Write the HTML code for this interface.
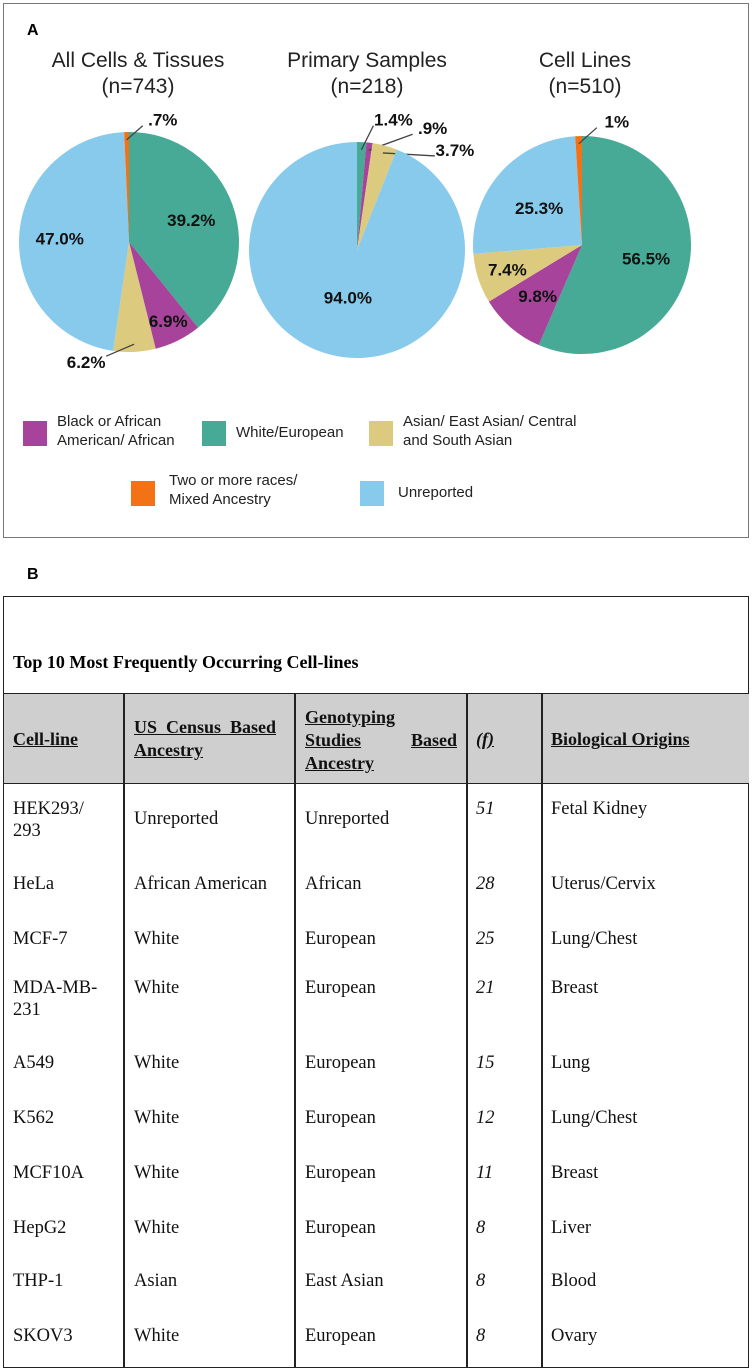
<!DOCTYPE html>
<html><head><meta charset="utf-8">
<style>
body{margin:0;width:753px;height:1371px;background:#fff;position:relative;overflow:hidden;font-family:"Liberation Sans",Arial,sans-serif;}
.abs{position:absolute;white-space:nowrap;}
.t{font-family:"Liberation Serif","Times New Roman",serif;font-size:18.5px;color:#111;}
.h{font-family:"Liberation Serif","Times New Roman",serif;font-weight:bold;font-size:18px;text-decoration:underline;color:#111;}
.vl{position:absolute;top:693px;height:674px;width:1.5px;background:#222;}
.lg{font-size:15px;color:#222;line-height:19px;}
.sw{position:absolute;width:24px;height:25px;}
</style></head><body>
<div class="abs" style="left:3px;top:3px;width:744px;height:533px;border:1.5px solid #777;"></div>
<div class="abs" style="left:27px;top:22px;font-weight:bold;font-size:16px;">A</div>
<svg id="pies" width="753" height="540" style="position:absolute;left:0;top:0"></svg>

<div class="sw" style="left:23px;top:421px;background:#A8439B"></div>
<div class="abs lg" style="left:57px;top:412px">Black or African<br>American/ African</div>
<div class="sw" style="left:202px;top:421px;background:#46AA96"></div>
<div class="abs lg" style="left:236px;top:423px">White/European</div>
<div class="sw" style="left:369px;top:421px;background:#DCCB7E"></div>
<div class="abs lg" style="left:403px;top:412px">Asian/ East Asian/ Central<br>and South Asian</div>
<div class="sw" style="left:131px;top:481px;background:#F47216"></div>
<div class="abs lg" style="left:169px;top:471px">Two or more races/<br>Mixed Ancestry</div>
<div class="sw" style="left:360px;top:481px;background:#87CAEC"></div>
<div class="abs lg" style="left:398px;top:483px">Unreported</div>

<div class="abs" style="left:27px;top:566px;font-weight:bold;font-size:16px;">B</div>
<div class="abs" style="left:3px;top:596px;width:744px;height:770px;border:1.5px solid #222;"></div>
<div class="abs" style="left:4px;top:693px;width:745px;height:89px;background:#d0cfcf;border-top:1.5px solid #222;border-bottom:1.5px solid #222;"></div>
<div class="abs" style="left:13px;top:652px;font-family:'Liberation Serif',serif;font-weight:bold;font-size:18px;">Top 10 Most Frequently Occurring Cell-lines</div>
<div class="vl" style="left:123px"></div>
<div class="vl" style="left:294px"></div>
<div class="vl" style="left:466px"></div>
<div class="vl" style="left:541px"></div>
<div class="abs h" style="left:13px;top:729px">Cell-line</div>
<div class="abs h" style="left:134px;top:716px;line-height:23px">US&nbsp;&nbsp;Census&nbsp;&nbsp;Based<br>Ancestry</div>
<div class="abs h" style="left:305px;top:706px;line-height:23px;width:152px;white-space:normal">Genotyping<br><span style="display:flex;justify-content:space-between"><span>Studies</span><span>Based</span></span>Ancestry</div>
<div class="abs h" style="left:476px;top:729px;font-style:italic">(f)</div>
<div class="abs h" style="left:551px;top:729px">Biological Origins</div>
<div id="rows"></div>

<script>
const groups=["Black","White","Asian","Mixed","Unreported"];
const colors={White:"#46AA96",Black:"#A8439B",Asian:"#DCCB7E",Mixed:"#F47216",Unreported:"#87CAEC"};
const pieTitles=["All Cells & Tissues","Primary Samples","Cell Lines"];
const pieN=["(n=743)","(n=218)","(n=510)"];
const pieOrder=["White","Black","Asian","Unreported","Mixed"];
const pie1Values=[39.2,6.9,6.2,47.0,0.7];
const pie2Values=[1.4,0.9,3.7,94.0,0];
const pie3Values=[56.5,9.8,7.4,25.3,1.0];
const pie1Labels=["39.2%","6.9%","6.2%","47.0%",".7%"];
const pie2Labels=["1.4%",".9%","3.7%","94.0%",""];
const pie3Labels=["56.5%","9.8%","7.4%","25.3%","1%"];
const allValues=[pie1Values,pie2Values,pie3Values];
const allLabels=[pie1Labels,pie2Labels,pie3Labels];
const geo=[{cx:129,cy:242,r:110,tx:138},{cx:357,cy:250,r:108,tx:367},{cx:582,cy:245,r:109,tx:585}];
const labelPos=[
 [{f:0.6},{f:0.8},{out:1,dx:-42,dy:18},{f:0.63},{out:1,dx:30,dy:-20}],
 [{out:1,dx:26,dy:-30},{out:1,dx:58,dy:-22},{out:1,dx:66,dy:-3},{f:0.45},{}],
 [{f:0.6},{f:0.62},{f:0.72},{f:0.52},{out:1,dx:32,dy:-22}]
];
const NS="http://www.w3.org/2000/svg";
const svg=document.getElementById('pies');
function pt(g,a,rr){return [g.cx+rr*Math.sin(a),g.cy-rr*Math.cos(a)];}
function angleOf(v,tot){return v/tot*2*Math.PI;}
allValues.forEach((vals,pi)=>{
  const g=geo[pi];
  const tot=vals.reduce((a,b)=>a+b,0);
  const t1=document.createElementNS(NS,'text');
  
  
  t1.setAttribute('x',g.tx);t1.setAttribute('y',67);t1.setAttribute('text-anchor','middle');t1.setAttribute('font-size','21');t1.setAttribute('fill','#222');
  t1.textContent=pieTitles[pi];svg.appendChild(t1);
  const t2=document.createElementNS(NS,'text');
  
  
  t2.setAttribute('x',g.tx);t2.setAttribute('y',93);t2.setAttribute('text-anchor','middle');t2.setAttribute('font-size','21');t2.setAttribute('fill','#222');
  t2.textContent=pieN[pi];svg.appendChild(t2);
  let a=0;
  vals.forEach((v,i)=>{
    if(v<=0)return;
    const da=angleOf(v,tot);
    const p0=pt(g,a,g.r),p1=pt(g,a+da,g.r);
    const path=document.createElementNS(NS,'path');
    
    
    path.setAttribute('d',`M${g.cx},${g.cy} L${p0[0]},${p0[1]} A${g.r},${g.r} 0 ${da>Math.PI?1:0} 1 ${p1[0]},${p1[1]} Z`);
    path.setAttribute('fill',colors[pieOrder[i]]);
    svg.appendChild(path);
    const lp=labelPos[pi][i]; const mid=a+da/2;
    let lx,ly;
    if(lp.out){
      const e=pt(g,mid,g.r*0.93);
      lx=e[0]+lp.dx; ly=e[1]+lp.dy;
      const ln=document.createElementNS(NS,'line');
      
      
      const ex=lx-Math.sign(lp.dx)*14, ey=ly+(lp.dy<0?6:-6);
      ln.setAttribute('x1',e[0]);ln.setAttribute('y1',e[1]);ln.setAttribute('x2',ex);ln.setAttribute('y2',ey);
      ln.setAttribute('stroke','#444');ln.setAttribute('stroke-width','1.3');
      svg.appendChild(ln);
      lx+= lp.dx>0?6:-6;
    } else {
      const e=pt(g,mid,g.r*lp.f); lx=e[0]; ly=e[1];
    }
    const tl=document.createElementNS(NS,'text');
    
    
    tl.setAttribute('x',lx);tl.setAttribute('y',ly+6);tl.setAttribute('text-anchor','middle');
    tl.setAttribute('font-size','17');tl.setAttribute('font-weight','bold');tl.setAttribute('fill','#111');
    tl.textContent=allLabels[pi][i];svg.appendChild(tl);
    a+=da;
  });
});

const cellLines=["HEK293/<br>293","HeLa","MCF-7","MDA-MB-<br>231","A549","K562","MCF10A","HepG2","THP-1","SKOV3"];
const censusAnc=["Unreported","African American","White","White","White","White","White","White","Asian","White"];
const genoAnc=["Unreported","African","European","European","European","European","European","European","East Asian","European"];
const freq=[51,28,25,21,15,12,11,8,8,8];
const origins=["Fetal Kidney","Uterus/Cervix","Lung/Chest","Breast","Lung","Lung/Chest","Breast","Liver","Blood","Ovary"];
const baselines=[813,888,943,992,1067,1122,1177,1232,1285,1340];
const rows=document.getElementById('rows');
cellLines.forEach((c,i)=>{
  const b=baselines[i]-15;
  const mid=(i===0)?10:0;
  const cells=[[13,c,0,'cell-line-name'],[134,censusAnc[i],mid,'census-ancestry'],[305,genoAnc[i],mid,'genotype-ancestry'],[476,'<i>'+freq[i]+'</i>',0,'frequency'],[551,origins[i],0,'biological-origin']];
  cells.forEach(cc=>{
    const d=document.createElement('div');
    d.className='abs t';
    
    
    d.style.left=cc[0]+'px';d.style.top=(b+cc[2])+'px';d.style.lineHeight='22px';
    d.innerHTML=cc[1];rows.appendChild(d);
  });
});
</script>
</body></html>
